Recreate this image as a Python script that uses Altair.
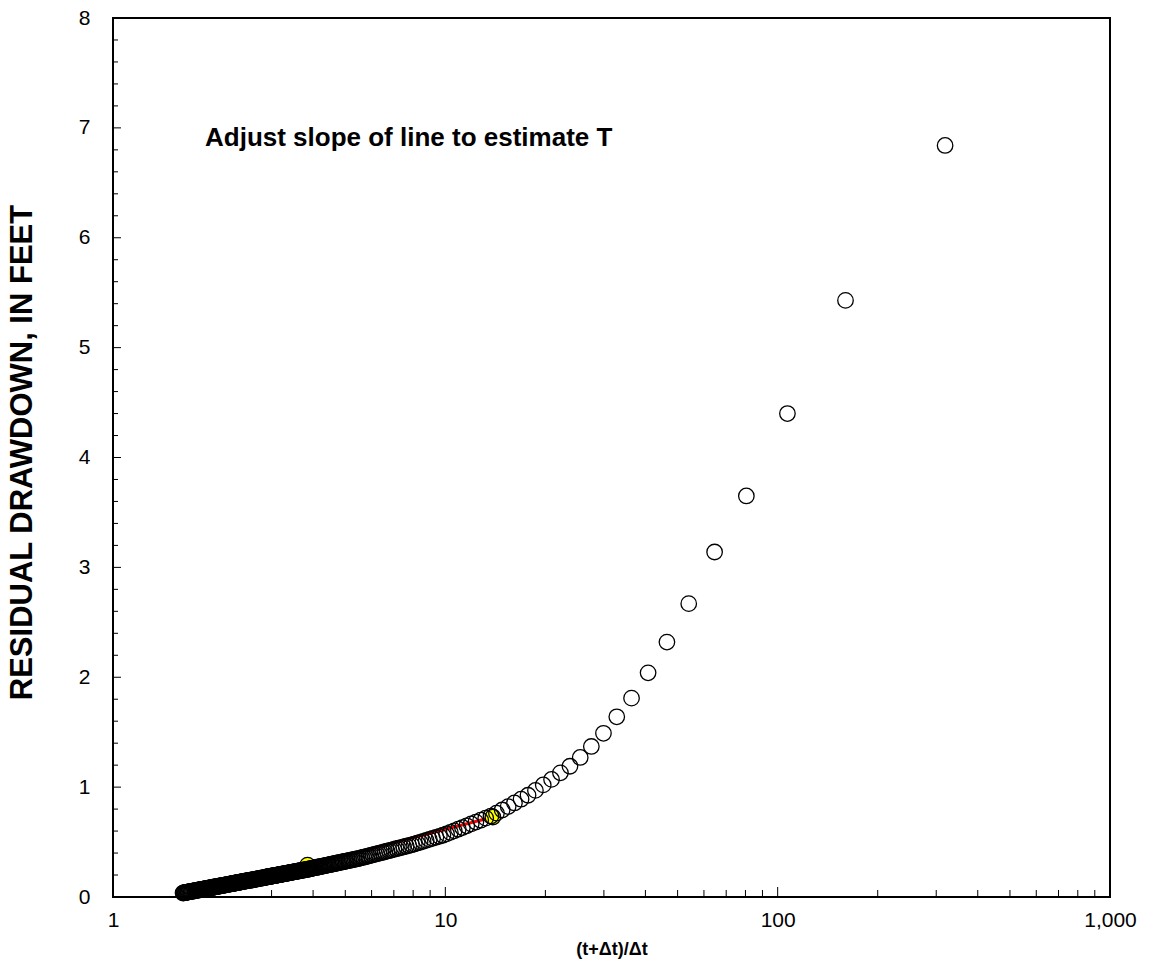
import altair as alt
import pandas as pd

# Recovery test: residual drawdown after the pump was shut off.
PUMP_MIN = 318  # length of pumping period t, minutes

# Time since pumping stopped (delta t), minutes
recovery_min = [
    1, 2, 3, 4, 5, 6, 7, 8, 9, 10,
    11, 12, 13, 14, 15, 16, 17, 18, 19, 20,
    21, 22, 23, 24, 25, 26, 27, 28, 29, 30,
    31, 32, 33, 34, 35, 36, 37, 38, 39, 40,
    41, 42, 43, 44, 45, 46, 47, 48, 49, 50,
    51, 52, 53, 54, 55, 56, 57, 58, 59, 60,
    61, 62, 63, 64, 65, 66, 67, 68, 69, 70,
    71, 72, 73, 74, 75, 76, 77, 78, 79, 80,
    81, 82, 83, 84, 85, 86, 87, 88, 89, 90,
    91, 92, 93, 94, 95, 96, 97, 98, 99, 100,
    101, 102, 103, 104, 105, 106, 107, 108, 109, 110,
    111, 112, 113, 114, 115, 116, 117, 118, 119, 120,
    121, 122, 123, 124, 125, 126, 127, 128, 129, 130,
    131, 132, 133, 134, 135, 136, 137, 138, 139, 140,
    141, 142, 143, 144, 145, 146, 147, 148, 149, 150,
    151, 152, 153, 154, 155, 156, 157, 158, 159, 160,
    161, 162, 163, 164, 165, 166, 167, 168, 169, 170,
    172, 174, 176, 178, 180, 182, 184, 186, 188, 190,
    192, 194, 196, 198, 200, 202, 204, 206, 208, 210,
    212, 214, 216, 218, 220, 222, 224, 226, 228, 230,
    232, 234, 236, 238, 240, 242, 244, 246, 248, 250,
    253, 256, 259, 262, 265, 268, 271, 274, 277, 280,
    283, 286, 289, 292, 295, 298, 301, 304, 307, 310,
    313, 316, 319, 322, 325, 328, 331,
    335, 339, 343, 347, 351, 355, 359, 363, 367, 371,
    375, 379, 383, 387, 391, 395, 399, 403, 407, 411,
    415, 419,
    425, 431, 437, 443, 449, 455, 461, 467, 473, 479,
    485, 491, 497, 503, 509,
]

# Residual drawdown, feet
residual_ft = [
    6.84, 5.43, 4.40, 3.65, 3.14, 2.67, 2.32, 2.04, 1.81, 1.64,
    1.49, 1.37, 1.27, 1.19, 1.13, 1.07, 1.02, 0.97, 0.926, 0.890,
    0.856, 0.823, 0.792, 0.763, 0.737, 0.718, 0.699, 0.682, 0.665, 0.648,
    0.632, 0.617, 0.602, 0.588, 0.574, 0.562, 0.552, 0.543, 0.533, 0.524,
    0.515, 0.507, 0.498, 0.490, 0.482, 0.475, 0.468, 0.462, 0.456, 0.450,
    0.444, 0.439, 0.433, 0.427, 0.422, 0.417, 0.412, 0.407, 0.402, 0.397,
    0.392, 0.388, 0.383, 0.379, 0.374, 0.370, 0.366, 0.362, 0.358, 0.354,
    0.350, 0.347, 0.344, 0.341, 0.338, 0.335, 0.332, 0.329, 0.326, 0.323,
    0.321, 0.318, 0.315, 0.313, 0.310, 0.307, 0.305, 0.302, 0.300, 0.298,
    0.295, 0.293, 0.291, 0.288, 0.286, 0.284, 0.281, 0.279, 0.277, 0.275,
    0.273, 0.271, 0.269, 0.267, 0.265, 0.263, 0.261, 0.258, 0.256, 0.255,
    0.253, 0.251, 0.250, 0.248, 0.247, 0.245, 0.243, 0.242, 0.240, 0.239,
    0.237, 0.236, 0.234, 0.233, 0.231, 0.230, 0.229, 0.227, 0.226, 0.224,
    0.223, 0.222, 0.220, 0.219, 0.218, 0.216, 0.215, 0.214, 0.213, 0.211,
    0.210, 0.209, 0.208, 0.207, 0.205, 0.204, 0.203, 0.202, 0.201, 0.199,
    0.198, 0.197, 0.196, 0.195, 0.194, 0.193, 0.192, 0.191, 0.190, 0.189,
    0.188, 0.187, 0.186, 0.185, 0.184, 0.183, 0.182, 0.181, 0.180, 0.179,
    0.177, 0.175, 0.173, 0.171, 0.169, 0.168, 0.166, 0.164, 0.163, 0.161,
    0.159, 0.158, 0.156, 0.154, 0.153, 0.151, 0.150, 0.149, 0.147, 0.146,
    0.144, 0.143, 0.142, 0.140, 0.139, 0.137, 0.136, 0.135, 0.133, 0.132,
    0.131, 0.130, 0.129, 0.127, 0.126, 0.125, 0.124, 0.123, 0.121, 0.120,
    0.119, 0.117, 0.115, 0.114, 0.112, 0.111, 0.109, 0.108, 0.106, 0.105,
    0.104, 0.102, 0.101, 0.099, 0.098, 0.097, 0.095, 0.094, 0.093, 0.092,
    0.091, 0.089, 0.088, 0.087, 0.086, 0.085, 0.083,
    0.082, 0.081, 0.079, 0.078, 0.076, 0.075, 0.074, 0.072, 0.071, 0.070,
    0.069, 0.067, 0.066, 0.065, 0.064, 0.063, 0.062, 0.061, 0.060, 0.058,
    0.057, 0.056,
    0.055, 0.053, 0.052, 0.050, 0.049, 0.048, 0.046, 0.045, 0.044, 0.042,
    0.041, 0.040, 0.039, 0.038, 0.036,
]

# Control points of the straight-line fit (x = (t+dt)/dt, residual drawdown)
fit_ratio = [3.85, 13.9]
fit_ft = [0.29, 0.728]

# Axis tick positions
x_labels = [1, 10, 100, 1000]
x_major_ticks = [10, 100]
x_minor_ticks = [2, 3, 4, 5, 6, 7, 8, 9, 20, 30, 40, 50, 60, 70, 80, 90,
                 200, 300, 400, 500, 600, 700, 800, 900]
y_labels = [0, 1, 2, 3, 4, 5, 6, 7, 8]
y_major_ticks = [1, 2, 3, 4, 5, 6, 7]
y_minor_ticks = [0.2, 0.4, 0.6, 0.8, 1.2, 1.4, 1.6, 1.8, 2.2, 2.4, 2.6, 2.8,
                 3.2, 3.4, 3.6, 3.8, 4.2, 4.4, 4.6, 4.8, 5.2, 5.4, 5.6, 5.8,
                 6.2, 6.4, 6.6, 6.8, 7.2, 7.4, 7.6, 7.8]

NOTE = "Adjust slope of line to estimate T"

W, H = 997, 879
FONT = "Liberation Sans, Arial, Helvetica, sans-serif"

obs = pd.DataFrame({"dt": recovery_min, "s": residual_ft})
obs["ratio"] = (PUMP_MIN + obs["dt"]) / obs["dt"]
fit = pd.DataFrame({"ratio": fit_ratio, "s": fit_ft})

xs = alt.Scale(type="log", domain=[1, 1000], nice=False)
ys = alt.Scale(domain=[0, 8], nice=False, zero=False)

x_axis = alt.Axis(
    values=x_labels, format=",d", tickSize=0, domain=False, grid=False,
    labelFontSize=21, labelPadding=12, labelColor="black", labelFont=FONT,
    labelFlush=False, labelOverlap=False,
    title="(t+Δt)/Δt", titleFontSize=18, titleFontWeight="bold", titleFont=FONT,
    titleColor="black", titleY=52, titleBaseline="middle",
)
y_axis = alt.Axis(
    values=y_labels, format="d", tickSize=0, domain=False, grid=False,
    labelFontSize=21, labelPadding=23, labelColor="black", labelFont=FONT,
    labelFlush=False, labelOverlap=False,
    title="RESIDUAL DRAWDOWN, IN FEET", titleFontSize=31, titleFontWeight="bold",
    titleFont=FONT, titleColor="black", titleX=-91, titleY=434,
    titleAngle=270, titleAlign="center", titleBaseline="middle",
)

# Observations carry the axes; every other layer shares their scales.
points = alt.Chart(obs).mark_point(
    shape="circle", filled=False, color="black", strokeWidth=1.3,
    size=240, opacity=1,
).encode(
    x=alt.X("ratio:Q", scale=xs, axis=x_axis),
    y=alt.Y("s:Q", scale=ys, axis=y_axis),
)


def xtick_layer(vals, length):
    return alt.Chart(pd.DataFrame({"ratio": vals})).mark_rule(
        color="black", strokeWidth=1
    ).encode(
        x=alt.X("ratio:Q", scale=xs),
        y=alt.value(H), y2=alt.value(H - length),
    )


def ytick_layer(vals, length):
    return alt.Chart(pd.DataFrame({"s": vals})).mark_rule(
        color="black", strokeWidth=1
    ).encode(
        y=alt.Y("s:Q", scale=ys),
        x=alt.value(0), x2=alt.value(length),
    )


fit_line = alt.Chart(fit).mark_line(color="#FF0000", strokeWidth=3).encode(
    x=alt.X("ratio:Q", scale=xs),
    y=alt.Y("s:Q", scale=ys),
)

fit_points = alt.Chart(fit).mark_point(
    shape="circle", filled=True, fill="#FFFF00", stroke="black",
    strokeWidth=1.3, size=240, opacity=1,
).encode(
    x=alt.X("ratio:Q", scale=xs),
    y=alt.Y("s:Q", scale=ys),
)

note = alt.Chart(pd.DataFrame({"t": [NOTE]})).mark_text(
    font=FONT, fontSize=26, fontWeight="bold", color="black",
    align="left", baseline="middle",
).encode(text="t:N", x=alt.value(92), y=alt.value(120))

chart = alt.layer(
    xtick_layer(x_minor_ticks, 7),
    xtick_layer(x_major_ticks, 10),
    ytick_layer(y_minor_ticks, 5),
    ytick_layer(y_major_ticks, 8),
    fit_line,
    fit_points,
    points,
    note,
).resolve_axis(
    x="shared", y="shared"
).properties(
    width=W, height=H,
    padding={"left": 113, "top": 18, "right": 40, "bottom": 77},
    autosize=alt.AutoSizeParams(type="none"),
    background="white",
).configure_view(
    stroke="black", strokeWidth=2,
)

chart.save("out.html", embed_options={"renderer": "svg", "actions": False})
